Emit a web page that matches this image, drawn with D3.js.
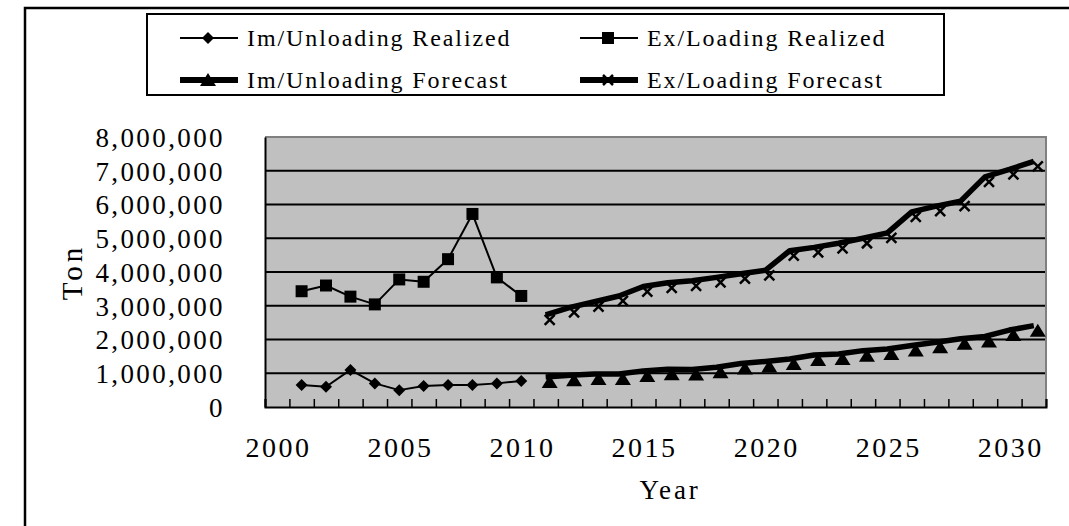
<!DOCTYPE html>
<html><head><meta charset="utf-8">
<script src="https://cdn.jsdelivr.net/npm/d3@7"></script>
<style>
html,body{margin:0;padding:0;background:#fff;}
svg{display:block;}
text{font-family:"Liberation Serif","Times New Roman",serif;fill:#000;}
</style></head>
<body>
<svg id="chart" width="1069" height="526"></svg>
<script>
// ---- data ----
const years = d3.range(2000, 2032);            // category axis 2000..2031
const yearLabels = [2000, 2005, 2010, 2015, 2020, 2025, 2030];
const yTicks = [0, 1000000, 2000000, 3000000, 4000000, 5000000, 6000000, 7000000, 8000000];
const realizedYears = d3.range(2001, 2011);
const forecastYears = d3.range(2011, 2032);
const imRealized = [650000, 600000, 1100000, 700000, 500000, 620000, 650000, 650000, 700000, 770000];
const exRealized = [3430000, 3600000, 3270000, 3040000, 3780000, 3710000, 4380000, 5720000, 3840000, 3290000];
const imForecast = [890000, 940000, 980000, 980000, 1070000, 1120000, 1110000, 1180000, 1290000, 1350000, 1420000,
                    1540000, 1570000, 1670000, 1720000, 1820000, 1920000, 2020000, 2090000, 2280000, 2410000];
const exForecast = [2730000, 2950000, 3120000, 3290000, 3570000, 3680000, 3740000, 3840000, 3950000, 4050000, 4630000,
                    4730000, 4850000, 5000000, 5160000, 5780000, 5950000, 6100000, 6820000, 7040000, 7280000];
const legendLabels = ["Im/Unloading Realized", "Ex/Loading Realized", "Im/Unloading Forecast", "Ex/Loading Forecast"];

// ---- layout ----
const svg = d3.select("#chart");
const L = 265, R = 1046, T = 137, B = 407;
const x = d3.scaleBand().domain(years).range([L, R]).padding(0);
const xEdge = d3.scaleLinear().domain([2000, 2032]).range([L, R]);
const y = d3.scaleLinear().domain([0, 8000000]).range([B, T]);

// outer frame (partially cropped)
svg.append("path").attr("d", "M25,526V8H1069").attr("fill", "none").attr("stroke", "#000").attr("stroke-width", 2.5);

// plot background
svg.append("rect").attr("x", L).attr("y", T).attr("width", R - L).attr("height", B - T).attr("fill", "#c0c0c0");

// gridlines
svg.append("g").selectAll("line").data(yTicks.filter(d => d > 0 && d < 8000000)).join("line")
  .attr("x1", L).attr("x2", R).attr("y1", d => y(d)).attr("y2", d => y(d))
  .attr("stroke", "#000").attr("stroke-width", 2);

// top/right border gray
svg.append("path").attr("d", `M${L},${T}H${R}V${B}`).attr("fill", "none").attr("stroke", "#808080").attr("stroke-width", 2);

// x ticks (inside, at category edges)
const xTickAxis = d3.axisBottom(xEdge).tickValues(d3.range(2000, 2033)).tickSize(-8).tickFormat("");
const gxt = svg.append("g").attr("transform", `translate(0,${B})`).call(xTickAxis);
gxt.selectAll("line").attr("stroke", "#000").attr("stroke-width", 1.5);
gxt.select(".domain").attr("stroke", "#000").attr("stroke-width", 2);

// x labels
const xAxis = d3.axisBottom(x).tickValues(yearLabels).tickSize(0).tickPadding(0);
const gx = svg.append("g").attr("transform", `translate(0,${B})`).call(xAxis);
gx.select(".domain").remove();
gx.selectAll("text").attr("y", 40).attr("dy", "0.35em").attr("dx", 1.3)
  .style("font-family", '"Liberation Serif",serif').style("font-size", "28px").style("letter-spacing", "2.5px");

// y axis
const yAxis = d3.axisLeft(y).tickValues(yTicks).tickFormat(d3.format(",")).tickSize(0).tickPadding(40);
const gy = svg.append("g").attr("transform", `translate(${L},0)`).call(yAxis);
gy.select(".domain").attr("stroke", "#000").attr("stroke-width", 2);
gy.selectAll("text").attr("dy", "0.35em")
  .style("font-family", '"Liberation Serif",serif').style("font-size", "27px").style("letter-spacing", "2.4px");

// axis titles
svg.append("text").attr("x", 670).attr("y", 490).attr("text-anchor", "middle").attr("dy", "0.35em")
  .style("font-size", "27px").style("letter-spacing", "2.8px").text("Year");
svg.append("text").attr("transform", "translate(72,272) rotate(-90)").attr("text-anchor", "middle").attr("dy", "0.35em")
  .style("font-size", "29px").style("letter-spacing", "4px").text("Ton");

// ---- series ----
const cx = d => x(d) + x.bandwidth() / 2;
const line = d3.line().x(d => cx(d[0])).y(d => y(d[1]));
const zip = (ys, vs) => ys.map((yr, i) => [yr, vs[i]]);

const diamond = "M0,-6L6,0L0,6L-6,0Z";
const square = "M-6,-6H6V6H-6Z";
const tri = "M0,-7L8,6H-8Z";
const cross = "M-5,-5L5,5M-5,5L5,-5";

function drawSeries(data, width, markerPath, markerStyle, markerOffset) {
  svg.append("path").datum(data).attr("d", line).attr("fill", "none")
    .attr("stroke", "#000").attr("stroke-width", width).attr("stroke-linejoin", "round");
  const g = svg.append("g").attr("transform", `translate(${markerOffset[0]},${markerOffset[1]})`);
  g.selectAll("path").data(data).join("path")
    .attr("transform", d => `translate(${cx(d[0])},${y(d[1])})`)
    .attr("d", markerPath).call(markerStyle);
}
const filled = s => s.attr("fill", "#000").attr("stroke", "none");
const crossStyle = s => s.attr("fill", "none").attr("stroke", "#000").attr("stroke-width", 2.5);

drawSeries(zip(realizedYears, imRealized), 2, diamond, filled, [0, 0]);
drawSeries(zip(realizedYears, exRealized), 2, square, filled, [0, 0]);
drawSeries(zip(forecastYears, imForecast), 5.5, tri, filled, [4, 5]);
drawSeries(zip(forecastYears, exForecast), 5.5, cross, crossStyle, [4, 5]);

// ---- legend ----
svg.append("rect").attr("x", 147).attr("y", 14).attr("width", 797).attr("height", 81)
  .attr("fill", "#fff").attr("stroke", "#000").attr("stroke-width", 2);
const legendItems = [
  {label: legendLabels[0], x: 180, y: 38, w: 2, m: diamond, st: filled},
  {label: legendLabels[1], x: 580, y: 38, w: 2, m: square, st: filled},
  {label: legendLabels[2], x: 180, y: 80, w: 6, m: tri, st: filled},
  {label: legendLabels[3], x: 580, y: 80, w: 6, m: cross, st: crossStyle}
];
const lg = svg.append("g").selectAll("g").data(legendItems).join("g")
  .attr("transform", d => `translate(${d.x},${d.y})`);
lg.append("line").attr("x1", 0).attr("x2", 58).attr("stroke", "#000").attr("stroke-width", d => d.w);
lg.append("path").attr("transform", "translate(28,0)").attr("d", d => d.m).each(function(d){ d3.select(this).call(d.st); });
lg.append("text").attr("x", 67).attr("dy", "0.35em")
  .style("font-size", "24px").style("letter-spacing", "1.9px").text(d => d.label);
</script>
</body></html>
